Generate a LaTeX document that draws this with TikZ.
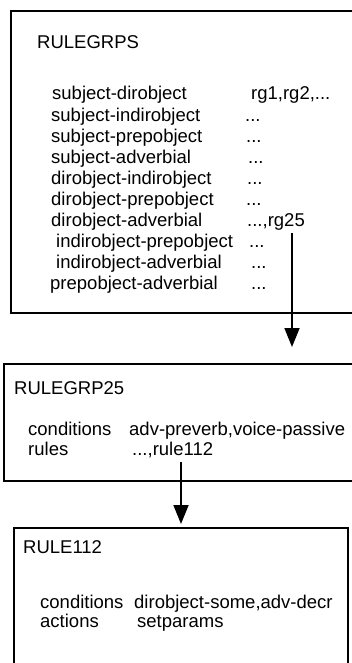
\documentclass[tikz,border=0pt]{standalone}
\usepackage{fontspec}
\setmainfont{Liberation Sans}
\usetikzlibrary{arrows.meta}
\begin{document}
\begin{tikzpicture}[x=1pt,y=-1pt,
  boxframe/.style={draw,line width=1.6pt,rectangle,anchor=north west,inner sep=0pt},
  txt/.style={anchor=base west,inner sep=0pt,font=\fontsize{18.5}{20}\selectfont},
  arr/.style={line width=1.8pt,-{Triangle[width=15pt,length=19pt]}}]
\useasboundingbox (0,0) rectangle (352,663);
\clip (0,0) rectangle (352,663);
% boxes
\node[boxframe,minimum width=370pt,minimum height=302pt] (box1) at (10,10) {};
\node[boxframe,minimum width=370pt,minimum height=117pt] (box2) at (3,363) {};
\node[boxframe,minimum width=334pt,minimum height=160pt] (box3) at (13,527) {};
% box 1 text
\node[txt] (t1) at (37,48.5) {RULEGRPS};
\node[txt] (r1) at (52,100) {subject-dirobject};
\node[txt] (r2) at (51,122) {subject-indirobject};
\node[txt] (r3) at (51,143) {subject-prepobject};
\node[txt] (r4) at (51,164) {subject-adverbial};
\node[txt] (r5) at (51,184) {dirobject-indirobject};
\node[txt] (r6) at (51,205) {dirobject-prepobject};
\node[txt] (r7) at (51,226) {dirobject-adverbial};
\node[txt] (r8) at (56,247) {indirobject-prepobject};
\node[txt] (r9) at (56,268) {indirobject-adverbial};
\node[txt] (r10) at (50,289) {prepobject-adverbial};
\node[txt] (v1) at (251,100) {rg1,rg2,...};
\node[txt] (v2) at (245,122) {...};
\node[txt] (v3) at (246,143) {...};
\node[txt] (v4) at (248,164) {...};
\node[txt] (v5) at (247,184) {...};
\node[txt] (v6) at (246,205) {...};
\node[txt] (v7) at (247,226) {...,rg25};
\node[txt] (v8) at (249,247) {...};
\node[txt] (v9) at (251,268) {...};
\node[txt] (v10) at (251,289) {...};
% box 2 text
\node[txt] (t2) at (14,394) {RULEGRP25};
\node[txt] (c2) at (28,435) {conditions};
\node[txt] (c2v) at (129,435) {adv-preverb,voice-passive};
\node[txt] (ru2) at (28,455) {rules};
\node[txt] (ru2v) at (132,455) {...,rule112};
% box 3 text
\node[txt] (t3) at (23,553) {RULE112};
\node[txt] (c3) at (40,608) {conditions};
\node[txt] (c3v) at (134,608) {dirobject-some,adv-decr};
\node[txt] (a3) at (40,627) {actions};
\node[txt] (a3v) at (137,627) {setparams};
% arrows
\coordinate (s1) at (292,233);
\coordinate (s2) at (181,462);
\draw[arr,shorten >=16pt] (s1) -- (s1 |- box2.north);
\draw[arr,shorten >=3pt] (s2) -- (s2 |- box3.north);
\end{tikzpicture}
\end{document}
